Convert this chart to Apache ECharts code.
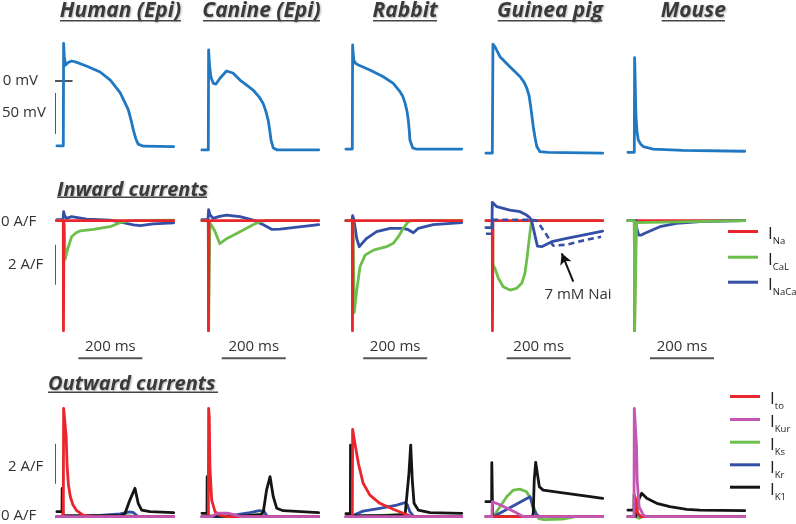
<!DOCTYPE html>
<html><head><meta charset="utf-8">
<script src="https://cdn.jsdelivr.net/npm/echarts@6/dist/echarts.min.js"></script>
<style>html,body{margin:0;padding:0;background:#fff}#c{width:796px;height:524px}</style>
</head><body><div id="c"></div>
<script>
// ---------- DATA (time in ms from upstroke, values in mV or A/F) ----------
const species = ['Human (Epi)', 'Canine (Epi)', 'Rabbit', 'Guinea pig', 'Mouse'];

// Action potentials (mV)
const humanAP  = [[-20,-79],[0,-79],[1,46],[3,30],[7,19.5],[15,22.5],[26,24.4],[40,23],[74,18],[115,11],[147,1],[178,-14.6],[203,-35],[212,-48],[219,-60],[227,-71],[234,-77],[250,-79.5],[345,-80]];
const canineAP = [[-20,-84],[0,-84],[1,37.8],[4,18],[8,5],[15.6,-2.8],[24,-3.7],[37,3.7],[57,12.2],[77,9.8],[99,1.2],[120,-5],[140,-11],[158,-19],[171,-27],[180,-37],[187,-47.6],[192,-60],[196,-72],[203,-81.7],[215,-84],[345,-84]];
const rabbitAP = [[-20,-83],[0,-83],[1,44],[3,32],[5,25.6],[10,21.5],[19,19.5],[55,13.4],[97,5.2],[128,-2.8],[149,-13],[158,-19],[165,-27],[171,-37],[175,-47.6],[178,-60],[180,-72],[189,-81.7],[201,-83],[342,-83]];
const guineaAP = [[-20,-88],[0,-88],[2,44.8],[8,41.8],[24,29.6],[55,17.4],[87,5.2],[100,-2],[108,-8.9],[115,-18],[120,-31.3],[128,-55.7],[134,-70],[139,-80],[149,-86.2],[175,-87],[345,-88]];
const mouseAP  = [[-20,-87],[0,-87],[1,28.4],[2.5,5],[4,-25],[5.3,-43.5],[8.4,-62],[12.5,-72],[20,-77],[28,-80],[59,-83],[152,-84.5],[345,-85.7]];

// Inward currents (A/F)
const humanINa   = [[-20,0],[0,0],[0.5,-5.5],[1.5,-5.5],[2,0],[345,0]];
const humanICaL  = [[-20,0],[0,0],[3,-0.3],[6,-1.93],[9,-1.7],[16,-1.3],[26,-0.8],[40,-0.6],[52,-0.51],[94,-0.43],[146,-0.3],[177,-0.1],[208,0],[345,0.03]];
const humanINaCa = [[-20,0.05],[-1,0.05],[1,0.45],[4,0.25],[10,0.12],[26,0.2],[73,0.08],[146,0.03],[187,-0.1],[219,-0.21],[240,-0.25],[281,-0.16],[345,-0.11]];
const canineINa   = [[-20,0],[0,0],[0.5,-5.5],[1.5,-5.5],[2,0],[345,0]];
const canineICaL  = [[-20,0],[0,0],[1,-5.5],[3,-5.5],[5,-0.1],[10,-0.2],[20,-0.5],[36,-1.15],[57,-0.9],[99,-0.55],[140,-0.2],[161,-0.05],[180,0],[345,0]];
const canineINaCa = [[-20,0.05],[-1,0.05],[1,0.55],[5,0.3],[15,0.12],[35,0.22],[57,0.28],[99,0.2],[140,0.03],[172,-0.2],[198,-0.43],[224,-0.42],[345,-0.2]];
const rabbitINa   = [[-20,0],[0,0],[0.5,-5.5],[1.5,-5.5],[2,0],[342,0]];
const rabbitICaL  = [[-20,0],[2,0],[6,-4.6],[8,-4.6],[14,-3.47],[24,-2.3],[40,-1.72],[66,-1.47],[107,-1.3],[128,-1.13],[144,-0.8],[159,-0.38],[175,-0.05],[185,0],[342,0]];
const rabbitINaCa = [[-20,0],[-1,0],[1,0.25],[5,0.05],[14,-0.9],[22,-1.3],[30,-1.15],[45,-0.88],[76,-0.55],[118,-0.38],[159,-0.38],[175,-0.45],[191,-0.6],[206,-0.38],[253,-0.2],[342,-0.1]];
const guineaINa   = [[-20,0],[0,0],[0.5,-5.5],[1.5,-5.5],[2,0],[345,0]];
const guineaICaL  = [[-20,0],[1,0],[2,-2.2],[8,-2.38],[19,-2.88],[34,-3.3],[55,-3.47],[76,-3.38],[92,-3.13],[102,-2.63],[109,-1.8],[115,-0.97],[120,-0.3],[123,0],[345,0]];
const guineaINaCa = [[-20,-0.35],[-1,-0.35],[0,0.92],[3,0.95],[14,0.7],[55,0.53],[87,0.45],[107,0.28],[117,0.15],[123,0],[133,-0.72],[141,-1.27],[154,-1.3],[186,-1.05],[232,-0.88],[295,-0.68],[345,-0.52]];
const guineaINaCa7Nai = [[-20,-0.65],[-1,-0.65],[0,0.05],[123,0.05],[139,0],[170,-0.72],[190,-1.25],[232,-1.2],[295,-0.95],[340,-0.8]];
const mouseINa   = [[-20,0],[0,0],[1,-5.5],[2,-5.5],[3,0],[345,0]];
const mouseICaL  = [[-20,0],[0,0],[1,-5.5],[5,-5.5],[7,-0.1],[12,0],[345,0]];
const mouseINaCa = [[-20,0],[5,0],[8,-0.4],[14,-0.72],[22,-0.72],[33,-0.63],[80,-0.3],[132,-0.13],[205,-0.04],[345,0]];

// Outward currents (A/F)
const humanIto  = [[-20,0],[0,0],[1,5.42],[6,5.42],[9,4.0],[12,2.5],[16,1.6],[22,1.0],[30,0.6],[42,0.3],[62,0.08],[90,0],[345,0]];
const humanIKur = [[-20,0],[0,0],[345,0]];
const humanIKs  = [[-20,0],[100,0],[200,0.05],[230,0],[345,0]];
const humanIKr  = [[-20,0],[20,0],[60,0.03],[115,0.06],[177,0.14],[208,0.24],[220,0.2],[234,0],[345,0]];
const humanIK1  = [[-20,0.25],[-4,0.25],[-3.5,1.42],[-2,1.42],[-1,0.05],[100,0.05],[180,0.05],[193,0.17],[208,0.83],[224,1.42],[234,0.67],[245,0.33],[271,0.25],[345,0.2]];
const canineIto  = [[-20,0],[0,0],[1,5.42],[3,5.0],[5,2.5],[10.6,0.83],[21,0.25],[36,0.08],[60,0],[345,0]];
const canineIKur = [[-20,0],[10,0],[20,0.1],[35,0.18],[60,0.18],[80,0.1],[100,0],[345,0]];
const canineIKs  = [[-20,0],[60,0],[120,0.08],[160,0.12],[180,0.05],[190,0],[345,0]];
const canineIKr  = [[-20,0],[40,0],[90,0.1],[130,0.2],[160,0.3],[175,0.25],[185,0],[345,0]];
const canineIK1  = [[-20,0.17],[-4,0.17],[-3.5,2.0],[-2,2.0],[-1,0.03],[100,0.03],[165,0.1],[172,0.25],[182,1.33],[193,2.0],[203,1.0],[214,0.42],[234,0.3],[345,0.2]];
const rabbitIto  = [[-20,0],[0,0],[1,4.37],[8,3.67],[19,2.67],[34,1.67],[55,1.08],[86,0.67],[128,0.37],[159,0.17],[180,0.03],[200,0],[342,0]];
const rabbitIKur = [[-20,0],[0,0],[342,0]];
const rabbitIKs  = [[-20,0],[20,0],[80,0.06],[150,0.1],[175,0.08],[185,0],[342,0]];
const rabbitIKr  = [[-20,0],[0,0],[10,0.12],[34,0.28],[86,0.42],[139,0.58],[165,0.7],[172,0.6],[180,0.25],[191,0.03],[200,0],[342,0]];
const rabbitIK1  = [[-20,0.15],[-6,0.15],[-5.5,3.58],[-3,3.58],[-2,0.05],[100,0.05],[165,0.1],[170,0.17],[177,2.17],[182.5,3.58],[187.5,1.83],[193,0.67],[206,0.33],[243,0.2],[342,0.17]];
const guineaIto  = [[-20,0],[0,0],[345,0]];
const guineaIKur = [[-20,0],[-1,0],[0,0.75],[20,0.62],[50,0.4],[75,0.2],[97,0],[345,0]];
const guineaIKs  = [[-20,0],[3,0],[24,0.5],[45,1.0],[66,1.33],[87,1.38],[107,1.25],[123,0.83],[133,0.33],[144,-0.08],[160,-0.15],[220,-0.12],[260,0],[345,0]];
const guineaIKr  = [[-20,0],[3,0],[118,1.0],[123,0.9],[128,0.42],[139,0.08],[150,0],[345,0]];
const guineaIK1  = [[-20,0.75],[-2,0.75],[-1.5,2.7],[0,2.7],[1,0],[125,0],[128,0.17],[131,1.83],[135.6,2.72],[140.6,2.17],[147,1.5],[159,1.33],[232,1.17],[295,1.03],[345,0.92]];
const mouseIto  = [[-20,0],[0,0],[2,1.0],[6,0.8],[10,0.2],[20,0],[345,0]];
const mouseIKur = [[-20,0],[-1,0],[0,5.42],[5,5.42],[7,3.5],[9,1.83],[15,0.5],[28,0.08],[40,0],[345,0]];
const mouseIKs  = [[-20,0],[5,0],[8,-0.1],[15,-0.08],[25,0],[345,0]];
const mouseIKr  = [[-20,0],[3,0],[6,0.15],[12,0.1],[20,0],[345,0]];
const mouseIK1  = [[-20,0.33],[-1,0.33],[-0.5,1.1],[1,1.1],[3,0.0],[8,0.05],[15,0.9],[23,1.17],[39,0.92],[70,0.67],[111,0.5],[164,0.37],[205,0.33],[345,0.3]];

// Scale bars (axis units)
const zeroTickAP = [[-54,0],[29,0]];
const mVBar = [[-26,-14.6],[-26,-64.6]];          // 50 mV
const zeroTickIn = [[-52,0],[-2,0]];
const aFBarIn = [[-26,-1.2],[-26,-3.2]];          // 2 A/F
const zeroTickOut = [[-52,0],[-5,0]];
const aFBarOut = [[-26,3.65],[-26,1.65]];         // 2 A/F
const msBars = [[47,247],[42,242],[34,234],[45,245],[49,249]]; // 200 ms
const msBarLevel = -6.88;
const arrow7Nai = [[217,-1.63],[253,-3.05]];

// ---------- LAYOUT ----------
const upX = [63.3, 208.3, 352.3, 492.3, 634.3];
const PXMS = 0.32;
const TMIN = -20, TMAX = 345;
const rows = [
  {min:-100, max:60, top:81 - 60*0.82, height:160*0.82},
  {min:-5.5, max:1.1, top:220.7 - 1.1*20, height:6.6*20},
  {min:-0.3, max:5.6, top:516.7 - 5.6*20, height:5.9*20}
];
const C = {ap:'#1f78c1', na:'#e8262c', cal:'#6dbf4b', naca:'#3450a6', to:'#e8262c', kur:'#c258b4', ks:'#6dbf4b', kr:'#3450a6', k1:'#151515', bar:'#555'};

const grids = [], xAxes = [], yAxes = [];
rows.forEach((r, ri) => {
  upX.forEach((u, ci) => {
    const gi = ri*5 + ci;
    grids.push({left: u - 20*PXMS, top: r.top, width: (TMAX-TMIN)*PXMS, height: r.height, containLabel:false});
    xAxes.push({gridIndex: gi, type:'value', min:TMIN, max:TMAX, show:false});
    yAxes.push({gridIndex: gi, type:'value', min:r.min, max:r.max, show:false});
  });
});

function trace(name, gi, data, color, z, extra) {
  return Object.assign({type:'line', name, xAxisIndex:gi, yAxisIndex:gi, data, symbol:'none', showSymbol:false,
    animation:false, silent:true, z, lineStyle:{color, width:2.8, cap:'round', join:'round'}, itemStyle:{color}}, extra || {});
}
function scale(gi, data, extra) {
  return Object.assign({type:'line', xAxisIndex:gi, yAxisIndex:gi, data, symbol:'none', showSymbol:false, clip:false,
    animation:false, silent:true, z:1, lineStyle:{color:C.bar, width:2}, itemStyle:{color:C.bar}}, extra || {});
}

const series = [];
[humanAP, canineAP, rabbitAP, guineaAP, mouseAP].forEach((d, ci) => series.push(trace('AP', ci, d, C.ap, 3)));

const inward = [
  [humanINa, humanICaL, humanINaCa], [canineINa, canineICaL, canineINaCa], [rabbitINa, rabbitICaL, rabbitINaCa],
  [guineaINa, guineaICaL, guineaINaCa], [mouseINa, mouseICaL, mouseINaCa]
];
inward.forEach((set, ci) => {
  const gi = 5 + ci;
  const zNa = ci === 4 ? 2 : 5, zCa = ci === 4 ? 5 : 3, zNx = ci === 3 ? 6 : (ci === 4 ? 3 : 2);
  series.push(trace('INaCa', gi, set[2], C.naca, zNx));
  series.push(trace('ICaL', gi, set[1], C.cal, zCa));
  series.push(trace('INa', gi, set[0], C.na, zNa));
});
series.push(trace('INaCa', 8, guineaINaCa7Nai, C.naca, 6, {lineStyle:{color:C.naca, width:2.6, type:[6,4]}}));

const outward = [
  [humanIto, humanIKur, humanIKs, humanIKr, humanIK1], [canineIto, canineIKur, canineIKs, canineIKr, canineIK1],
  [rabbitIto, rabbitIKur, rabbitIKs, rabbitIKr, rabbitIK1], [guineaIto, guineaIKur, guineaIKs, guineaIKr, guineaIK1],
  [mouseIto, mouseIKur, mouseIKs, mouseIKr, mouseIK1]
];
outward.forEach((set, ci) => {
  const gi = 10 + ci;
  series.push(trace('IKs', gi, set[2], C.ks, 2));
  series.push(trace('IKr', gi, set[3], C.kr, 3));
  series.push(trace('IK1', gi, set[4], C.k1, 4));
  series.push(trace('Ito', gi, set[0], C.to, 5));
  series.push(trace('IKur', gi, set[1], C.kur, 6));
});

// scale bars
series.push(scale(0, zeroTickAP), scale(0, mVBar));
series.push(scale(5, zeroTickIn), scale(5, aFBarIn));
series.push(scale(10, zeroTickOut), scale(10, aFBarOut));
msBars.forEach((b, ci) => {
  const ex = {};
  if (ci === 3) {
    ex.markLine = {silent:true, symbol:['arrow','none'], symbolSize:[9,11], label:{show:false}, animation:false,
      lineStyle:{color:'#111', width:2, type:'solid'},
      data:[[{coord:arrow7Nai[0]}, {coord:arrow7Nai[1]}]]};
  }
  series.push(scale(5 + ci, [[b[0], msBarLevel], [b[1], msBarLevel]], ex));
});

// legends
const subs = {INa:'Na', ICaL:'CaL', INaCa:'NaCa', Ito:'to', IKur:'Kur', IKs:'Ks', IKr:'Kr', IK1:'K1'};
const legendColors = {INa:C.na, ICaL:C.cal, INaCa:C.naca, Ito:C.to, IKur:C.kur, IKs:C.ks, IKr:C.kr, IK1:C.k1};
const legendRows = [
  {names:['INa','ICaL','INaCa'], x:728, ys:[241, 266.7, 291.7]},
  {names:['Ito','IKur','IKs','IKr','IK1'], x:730, ys:[406, 429, 451.7, 474.3, 496.7]}
];
const legends = [];
legendRows.forEach(lr => lr.names.forEach((n, i) => {
  legends.push({data:[{name:n, icon:'rect', itemStyle:{color:legendColors[n]}}], left:lr.x, top:lr.ys[i] - 15, padding:0, itemGap:0,
    itemWidth:30, itemHeight:3, selectedMode:false, orient:'vertical',
    formatter: name => '{i|I}{s|' + subs[name] + '}',
    textStyle:{rich:{
      i:{fontSize:17, color:'#222', fontFamily:'Open Sans', padding:[6,0,0,5]},
      s:{fontSize:9.5, color:'#222', fontFamily:'Open Sans', padding:[20,0,0,0]}
    }}});
}));

// text annotations
const TXT = '#333';
function txt(text, x, y, font, align, extra) {
  return {type:'text', x, y, silent:true, style:Object.assign({text, fill:TXT, font, align:align || 'left', verticalAlign:'middle'}, extra || {})};
}
function uline(x1, x2, y) {
  return {type:'line', silent:true, shape:{x1, y1:y, x2, y2:y}, style:{stroke:'#444', lineWidth:1.5}};
}
const titleFont = 'italic bold 21px "Open Sans"';
const shadow = {textShadowColor:'rgba(0,0,0,0.3)', textShadowBlur:2, textShadowOffsetX:1, textShadowOffsetY:1};
const titleCx = [120.5, 261.5, 405, 550, 693.3];
const titleUl = [[60,181],[203,320],[373,437],[497.7,602.3],[661.7,725]];
const graphic = [];
species.forEach((s, i) => {
  graphic.push(txt(s, titleCx[i], 11, titleFont, 'center', Object.assign({fill:'#3a3a3a'}, shadow)));
  graphic.push(uline(titleUl[i][0], titleUl[i][1], 20.7));
});
graphic.push(txt('Inward currents', 57, 190, 'italic bold 20px "Open Sans"', 'left', Object.assign({fill:'#3a3a3a'}, shadow)), uline(57, 207, 197.3));
graphic.push(txt('Outward currents', 48, 384, 'italic bold 20px "Open Sans"', 'left', Object.assign({fill:'#3a3a3a'}, shadow)), uline(48, 218, 392.3));
const lf = '15px "Open Sans"';
graphic.push(txt('0 mV', 2.7, 81, lf), txt('50 mV', 2, 113, lf));
graphic.push(txt('0 A/F', 1, 221.7, lf), txt('2 A/F', 8, 265, lf));
graphic.push(txt('0 A/F', 1, 516, lf), txt('2 A/F', 8, 467, lf));
msBars.forEach((b, ci) => {
  const cx = upX[ci] + ((b[0] + b[1]) / 2) * PXMS;
  graphic.push(txt('200 ms', cx, 346.7, lf, 'center'));
});
graphic.push(txt('7 mM Nai', 578, 295, lf, 'center'));

const chart = echarts.init(document.getElementById('c'), null, {renderer:'canvas'});
chart.setOption({
  animation:false,
  backgroundColor:'#fff',
  grid:grids, xAxis:xAxes, yAxis:yAxes,
  legend:legends,
  series,
  graphic
});
</script></body></html>
